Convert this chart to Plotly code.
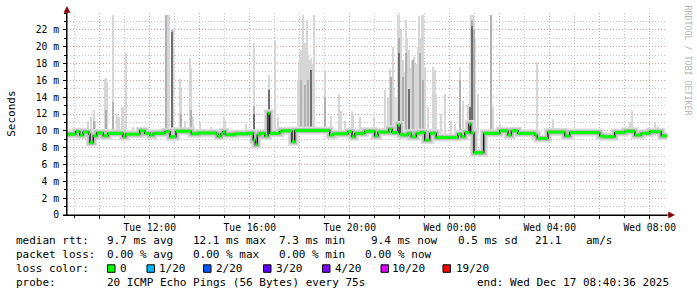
import plotly.graph_objects as go

# ---------------- data ----------------
# time axis in hours since Tue 00:00 (Wed 00:00 == 24)
T_START, T_END = 8.69, 32.69

x_tick_vals = [10, 12, 14, 16, 18, 20, 22, 24, 26, 28, 30, 32]
x_tick_text = ["", "Tue 12:00", "", "Tue 16:00", "", "Tue 20:00", "",
               "Wed 00:00", "", "Wed 04:00", "", "Wed 08:00"]
y_tick_vals = [0, 2, 4, 6, 8, 10, 12, 14, 16, 18, 20, 22]
y_tick_text = ["0", "2 m", "4 m", "6 m", "8 m", "10 m", "12 m", "14 m",
               "16 m", "18 m", "20 m", "22 m"]

# median rtt (ms), step changes
median_t = [8.69, 9.04, 9.20, 9.33, 9.56, 9.61, 9.74, 9.88, 10.14, 10.33, 10.93,
            11.04, 11.60, 11.80, 12.01, 12.14, 12.60, 12.81, 13.05, 13.66, 13.93,
            14.66, 14.73, 14.84, 14.93, 15.02, 15.40, 15.93, 16.14, 16.22, 16.30,
            16.40, 16.60, 16.73, 16.80, 17.20, 17.27, 17.69, 17.80, 19.20, 19.33,
            19.93, 20.09, 20.20, 20.60, 21.00, 21.13, 21.56, 21.69, 21.93, 22.01,
            22.09, 22.33, 22.46, 22.66, 22.80, 23.00, 23.20, 23.46, 24.33, 24.46,
            24.60, 24.77, 24.84, 24.97, 25.36, 26.00, 26.33, 26.46, 26.73, 27.40,
            27.50, 27.93, 28.60, 28.80, 30.00, 30.13, 30.60, 31.00, 31.40, 31.66,
            32.00, 32.46, 32.69]
median_v = [9.6, 9.9, 9.5, 9.85, 9.6, 8.6, 9.4, 9.75, 9.4, 9.7, 9.3,
            9.6, 10.0, 9.7, 9.5, 9.7, 9.9, 9.3, 9.95, 9.65, 9.75,
            9.6, 9.35, 9.65, 9.9, 9.55, 9.65, 9.7, 8.9, 8.35, 9.5,
            9.7, 9.4, 12.1, 9.7, 9.9, 10.0, 8.7, 10.05, 9.5, 9.65,
            9.9, 9.3, 9.7, 9.95, 9.4, 9.85, 10.2, 9.8, 10.7, 9.6,
            9.5, 9.7, 9.3, 9.7, 9.8, 8.9, 9.7, 9.2, 9.6, 9.3,
            9.8, 10.8, 9.75, 7.4, 9.7, 10.0, 9.5, 10.0, 9.7, 9.5,
            9.1, 9.85, 9.4, 9.8, 9.4, 9.3, 9.8, 9.95, 9.5, 9.7,
            9.9, 9.4, 9.4]

SMOKE_BASE = 9.6
# light smoke (max ping)
light_t = [9.09, 9.53, 9.64, 9.76, 9.82, 10.20, 10.24, 10.28, 10.53, 10.69, 10.76,
           10.88, 10.94, 11.06, 11.33, 12.65, 12.70, 12.76, 12.89, 12.93, 13.22,
           13.26, 13.40, 13.60, 13.64, 13.73, 14.00, 14.46,
           14.97, 15.00, 15.86, 16.16, 16.77, 17.02, 17.13, 17.93, 17.97, 18.01,
           18.05, 18.09, 18.13, 18.17, 18.22, 18.26, 18.30, 18.34, 18.40, 18.44,
           18.48, 18.57, 19.00, 19.26, 19.56, 19.64, 19.80, 20.08, 20.12, 20.40,
           20.60,
           20.97, 21.42, 21.53, 21.62, 21.72, 21.93, 21.98, 22.04, 22.12, 22.17,
           22.25, 22.30, 22.36, 22.42, 22.49, 22.56, 22.66, 22.73, 22.78, 22.84,
           22.89, 22.94, 23.00, 23.13, 23.33, 23.40, 23.46, 23.64, 23.80, 24.04,
           24.22, 24.40, 24.53, 24.73, 24.81, 24.86, 24.92, 24.97, 25.02, 25.13,
           25.66, 25.73, 26.00,
           27.50, 28.13, 31.20, 31.29, 32.20, 32.33]
light_v = [10.3, 11.2, 11.6, 12.5, 11.2, 16.1, 16.3, 15.8, 23.8, 12.0, 11.6,
           12.8, 12.8, 19.2, 10.4, 23.8, 23.8, 23.8, 22.0, 22.0, 16.2,
           15.0, 11.2, 18.6, 17.5, 11.6, 11.0, 10.4,
           11.6, 11.2, 10.8, 20.4, 16.6, 20.8, 11.6, 16.0, 18.0, 19.0,
           19.6, 18.8, 23.8, 19.5, 20.4, 19.8, 23.2, 19.0, 18.4, 18.6,
           18.0, 23.8, 17.2, 11.8, 14.4, 12.4, 11.2, 12.4, 12.0, 11.6,
           10.5,
           11.6, 14.8, 14.0, 17.4, 20.0, 23.8, 23.8, 22.0, 18.4, 17.0,
           23.2, 21.0, 19.6, 17.5, 18.4, 18.8, 18.0, 20.0, 23.6, 21.0,
           23.8, 23.8, 17.6, 12.8, 17.6, 17.2, 14.4, 12.0, 14.4, 11.2,
           10.8, 17.6, 13.6, 13.2, 18.0, 23.8, 23.8, 23.0, 21.0, 14.4,
           23.8, 12.8, 10.8,
           18.2, 11.4, 11.0, 12.4, 11.0, 10.6]
# light haze in dense periods
haze_t = [17.95, 18.05, 18.15, 18.25, 18.35, 18.45, 18.55,
          21.65, 21.75, 21.85, 21.95, 22.05, 22.15, 22.25, 22.35, 22.45, 22.55,
          22.65, 22.75, 22.85, 22.95, 24.80, 24.90, 25.00]
haze_v = [15.0, 17.0, 17.5, 17.0, 16.5, 16.0, 13.0,
          13.5, 15.0, 14.0, 16.0, 15.0, 14.5, 15.0, 14.5, 15.5, 15.0,
          14.0, 15.5, 16.0, 15.0, 15.0, 18.0, 16.0]
# medium smoke
mid_t = [9.76, 10.26, 10.53, 12.66, 12.89, 13.26, 13.64, 16.16, 16.77, 18.04,
         18.20, 18.33, 18.46, 19.00, 21.66, 21.96, 22.13, 22.26, 22.53, 22.80,
         22.93, 24.40, 24.89, 24.97, 25.66]
mid_v = [11.2, 12.5, 13.4, 23.8, 22.0, 12.0, 12.5, 13.0, 15.0, 16.0,
         15.5, 16.0, 17.0, 14.0, 16.4, 21.0, 16.4, 19.2, 18.4, 19.2,
         16.0, 16.0, 23.2, 22.0, 23.8]
# dark smoke
dark_t = [12.91, 16.16, 16.77, 18.46, 21.97, 22.37, 24.82, 24.88]
dark_v = [21.8, 12.0, 14.8, 17.2, 19.3, 15.0, 12.8, 22.5]

# legend texts
row_labels = ["median rtt:", "packet loss:", "loss color:", "probe:"]
rtt_stats = ["9.7 ms avg", "12.1 ms max", "7.3 ms min", "9.4 ms now",
             "0.5 ms sd", "21.1", "am/s"]
loss_stats = ["0.00 % avg", "0.00 % max", "0.00 % min", "0.00 % now"]
loss_labels = ["0", "1/20", "2/20", "3/20", "4/20", "10/20", "19/20"]
loss_colors = ["#00ff00", "#00b8ff", "#0059ff", "#5e00ff", "#7e00ff",
               "#dd00ff", "#ff0000"]
probe_text = "20 ICMP Echo Pings (56 Bytes) every 75s"
end_text = "end: Wed Dec 17 08:40:36 2025"
watermark = "RRDTOOL / TOBI OETIKER"

# ---------------- layout helpers ----------------
W, H = 697, 297
PL, PR, PT, PB = 67, 667, 13, 215
MONO = "DejaVu Sans Mono"


def fx(px):
    return (px - PL) / (PR - PL)


def fy(py):
    return (PB - py) / (PB - PT)


fig = go.Figure()

BW = 0.05
fig.add_trace(go.Bar(x=haze_t, y=[v - SMOKE_BASE for v in haze_v], base=SMOKE_BASE,
                     width=0.09, marker=dict(color="#e2e2e2", line_width=0)))
fig.add_trace(go.Bar(x=light_t, y=[v - SMOKE_BASE for v in light_v], base=SMOKE_BASE,
                     width=BW, marker=dict(color="#d6d6d6", line_width=0)))
fig.add_trace(go.Bar(x=mid_t, y=[v - SMOKE_BASE for v in mid_v], base=SMOKE_BASE,
                     width=BW, marker=dict(color="#b0b0b0", line_width=0)))
fig.add_trace(go.Bar(x=dark_t, y=[v - SMOKE_BASE for v in dark_v], base=SMOKE_BASE,
                     width=BW, marker=dict(color="#6e6e6e", line_width=0)))

# smoke band around the median
fig.add_trace(go.Scatter(x=median_t, y=median_v, mode="lines",
                         line=dict(color="#dcdcdc", width=8, shape="hv")))
fig.add_trace(go.Scatter(x=median_t, y=median_v, mode="lines",
                         line=dict(color="#bcbcbc", width=5, shape="hv")))
fig.add_trace(go.Scatter(x=median_t, y=median_v, mode="lines",
                         line=dict(color="#000000", width=1.2, shape="hv")))
# loss-coloured median (horizontal pieces)
gx, gy = [], []
for i in range(len(median_t) - 1):
    gx += [median_t[i], median_t[i + 1], None]
    gy += [median_v[i], median_v[i], None]
fig.add_trace(go.Scatter(x=gx, y=gy, mode="lines",
                         line=dict(color="#00ff00", width=3)))

major_grid = "#e49c9c"
minor_grid = "#c4c4c4"
fig.update_xaxes(range=[T_START, T_END], tickmode="array", tickvals=x_tick_vals,
                 ticktext=x_tick_text, showgrid=True, gridcolor=major_grid,
                 griddash="1px,2px", gridwidth=1, zeroline=False,
                 showline=True, linecolor="#000000", linewidth=1,
                 ticks="outside", ticklen=3, tickcolor="#000000",
                 tickfont=dict(family=MONO, size=9.7, color="#000000"),
                 minor=dict(tickmode="linear", tick0=0, dtick=1, showgrid=True,
                            gridcolor=minor_grid, griddash="1px,2px",
                            ticks="outside", ticklen=2, tickcolor="#000000"))
fig.update_yaxes(range=[0, 24], tickmode="array", tickvals=y_tick_vals,
                 ticktext=y_tick_text, showgrid=True, gridcolor=major_grid,
                 griddash="1px,2px", gridwidth=1, zeroline=False,
                 showline=True, linecolor="#000000", linewidth=1,
                 ticks="outside", ticklen=3, tickcolor="#000000",
                 ticklabelstandoff=2,
                 tickfont=dict(family=MONO, size=9.7, color="#000000"),
                 minor=dict(tickmode="linear", tick0=0, dtick=1, showgrid=True,
                            gridcolor=minor_grid, griddash="1px,2px",
                            ticks="outside", ticklen=2, tickcolor="#000000"))

shapes = [
    # y axis extension + arrow
    dict(type="line", xref="paper", yref="paper", x0=fx(67), x1=fx(67),
         y0=fy(215), y1=fy(10), line=dict(color="#000000", width=1)),
    dict(type="path", xref="paper", yref="paper",
         path=f"M {fx(67)},{fy(6.5)} L {fx(64)},{fy(12.5)} L {fx(70)},{fy(12.5)} Z",
         fillcolor="#8b0000", line=dict(color="#8b0000", width=0.5)),
    # x axis extension + arrow
    dict(type="line", xref="paper", yref="paper", x0=fx(63), x1=fx(670),
         y0=fy(215), y1=fy(215), line=dict(color="#000000", width=1)),
    dict(type="path", xref="paper", yref="paper",
         path=f"M {fx(674.5)},{fy(215)} L {fx(668.5)},{fy(212)} L {fx(668.5)},{fy(218)} Z",
         fillcolor="#8b0000", line=dict(color="#8b0000", width=0.5)),
]

ann = []


def txt(s, x, y, size=11, color="#000000", angle=0, xanchor="left"):
    ann.append(dict(text=s.replace(" ", "\u00a0"), xref="paper", yref="paper",
                    x=fx(x), y=fy(y), xanchor=xanchor, yanchor="middle",
                    showarrow=False, borderpad=0, borderwidth=0,
                    textangle=angle,
                    font=dict(family=MONO, size=size, color=color)))


row_y = [240.7, 254.3, 268.3, 282.3]
for lab, yy in zip(row_labels, row_y):
    txt(lab, 15.5, yy)

for s, x in zip(rtt_stats, [106.8, 192.8, 278.8, 371.2, 457.8, 534.5, 586.2]):
    txt(s, x, row_y[0])
for s, x in zip(loss_stats, [106.8, 192.8, 278.8, 364.5]):
    txt(s, x, row_y[1])

box_x = [107.5, 147.0, 203.5, 263.5, 322.5, 381.0, 443.0]
lab_x = [119.5, 158.8, 215.5, 275.5, 334.5, 392.2, 456.2]
for s, c, bx, lx in zip(loss_labels, loss_colors, box_x, lab_x):
    shapes.append(dict(type="rect", xref="paper", yref="paper",
                       x0=fx(bx), x1=fx(bx + 7.5), y0=fy(272.3), y1=fy(264.8),
                       fillcolor=c, line=dict(color="#000000", width=1)))
    txt(s, lx, row_y[2])

txt(probe_text, 106.8, row_y[3])
txt(end_text, 477.0, row_y[3])

txt("Seconds", 10.8, 114, size=11, angle=-90, xanchor="center")
txt(watermark, 687.5, 60, size=8.3, color="#b4b4b4", angle=90, xanchor="center")

fig.update_layout(width=W, height=H, margin=dict(l=PL, r=W - PR, t=PT, b=H - PB),
                  paper_bgcolor="#ffffff", plot_bgcolor="#ffffff",
                  showlegend=False, barmode="overlay", bargap=0,
                  shapes=shapes, annotations=ann)

fig.write_html("out.html")
